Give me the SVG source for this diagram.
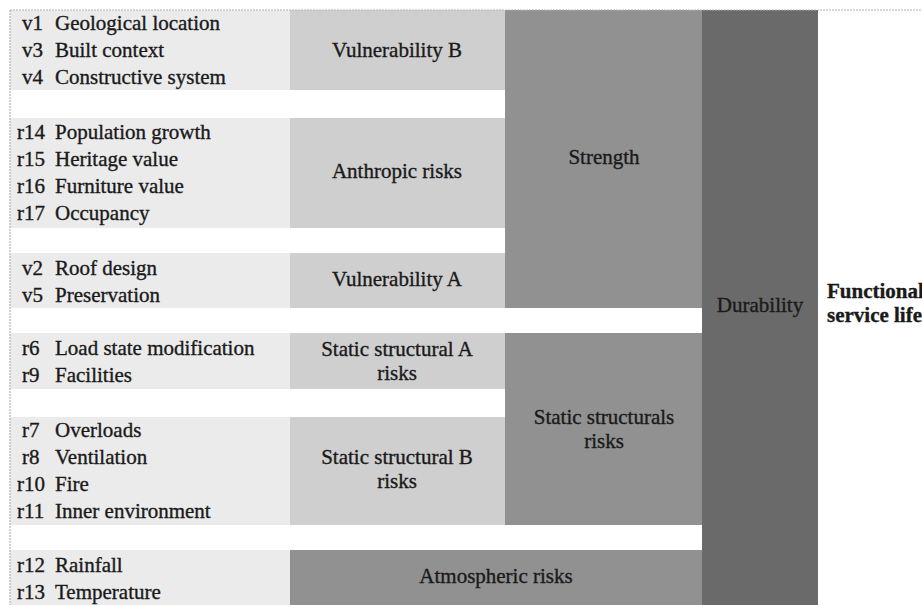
<svg xmlns="http://www.w3.org/2000/svg" width="922" height="605" viewBox="0 0 922 605">
<style>
.c1{fill:#ebebeb}
.c2{fill:#cfcfcf}
.c3{fill:#919191}
.c4{fill:#6a6a6a}
text{font-family:'Liberation Serif','DejaVu Serif',serif;font-size:21px;fill:#1a1a1a;stroke:#1a1a1a;stroke-width:0.35}
.m{text-anchor:middle}
.b{font-weight:bold}
.frame{stroke:#b4b4b4;stroke-width:1.2;stroke-dasharray:2 1;fill:none}
</style>
<rect width="922" height="605" fill="#ffffff"/>
<g id="nodes">
<g id="row1">
<rect class="c1" x="10" y="10" width="280" height="80"/>
<text x="22" y="30">v1</text><text x="55" y="30">Geological location</text>
<text x="22" y="57">v3</text><text x="55" y="57">Built context</text>
<text x="22" y="84">v4</text><text x="55" y="84">Constructive system</text>
</g>
<g id="row2">
<rect class="c1" x="10" y="118" width="280" height="110"/>
<text x="17" y="139">r14</text><text x="55" y="139">Population growth</text>
<text x="17" y="166">r15</text><text x="55" y="166">Heritage value</text>
<text x="17" y="193">r16</text><text x="55" y="193">Furniture value</text>
<text x="17" y="220">r17</text><text x="55" y="220">Occupancy</text>
</g>
<g id="row3">
<rect class="c1" x="10" y="253" width="280" height="55"/>
<text x="22" y="275">v2</text><text x="55" y="275">Roof design</text>
<text x="22" y="302">v5</text><text x="55" y="302">Preservation</text>
</g>
<g id="row4">
<rect class="c1" x="10" y="333" width="280" height="56"/>
<text x="22" y="355">r6</text><text x="55" y="355">Load state modification</text>
<text x="22" y="382">r9</text><text x="55" y="382">Facilities</text>
</g>
<g id="row5">
<rect class="c1" x="10" y="417" width="280" height="108"/>
<text x="22" y="437">r7</text><text x="55" y="437">Overloads</text>
<text x="22" y="464">r8</text><text x="55" y="464">Ventilation</text>
<text x="17" y="491">r10</text><text x="55" y="491">Fire</text>
<text x="17" y="518">r11</text><text x="55" y="518">Inner environment</text>
</g>
<g id="row6">
<rect class="c1" x="10" y="550" width="280" height="55"/>
<text x="17" y="572">r12</text><text x="55" y="572">Rainfall</text>
<text x="17" y="599">r13</text><text x="55" y="599">Temperature</text>
</g>
<g id="vulnB">
<rect class="c2" x="290" y="10" width="215" height="80"/>
<text class="m" x="397" y="57">Vulnerability B</text>
</g>
<g id="anthropic">
<rect class="c2" x="290" y="118" width="215" height="110"/>
<text class="m" x="397" y="178">Anthropic risks</text>
</g>
<g id="vulnA">
<rect class="c2" x="290" y="253" width="215" height="55"/>
<text class="m" x="397" y="286">Vulnerability A</text>
</g>
<g id="staticA">
<rect class="c2" x="290" y="333" width="215" height="56"/>
<text class="m" x="397" y="356">Static structural A</text>
<text class="m" x="397" y="380">risks</text>
</g>
<g id="staticB">
<rect class="c2" x="290" y="417" width="215" height="108"/>
<text class="m" x="397" y="464">Static structural B</text>
<text class="m" x="397" y="488">risks</text>
</g>
<g id="strength">
<rect class="c3" x="505" y="10" width="197" height="298"/>
<text class="m" x="604" y="164">Strength</text>
</g>
<g id="staticStructurals">
<rect class="c3" x="505" y="333" width="197" height="192"/>
<text class="m" x="604" y="424">Static structurals</text>
<text class="m" x="604" y="448">risks</text>
</g>
<g id="atmospheric">
<rect class="c3" x="290" y="550" width="412" height="55"/>
<text class="m" x="496" y="583">Atmospheric risks</text>
</g>
<g id="durability">
<rect class="c4" x="702" y="10" width="116" height="595"/>
<text class="m" x="760" y="312">Durability</text>
</g>
<g id="functional">
<text class="b" x="827" y="298">Functional</text>
<text class="b" x="827" y="322">service life</text>
</g>
</g>
<g id="connectors">
<path class="frame" d="M10 10H922M10 10V605"/>
</g>
</svg>
